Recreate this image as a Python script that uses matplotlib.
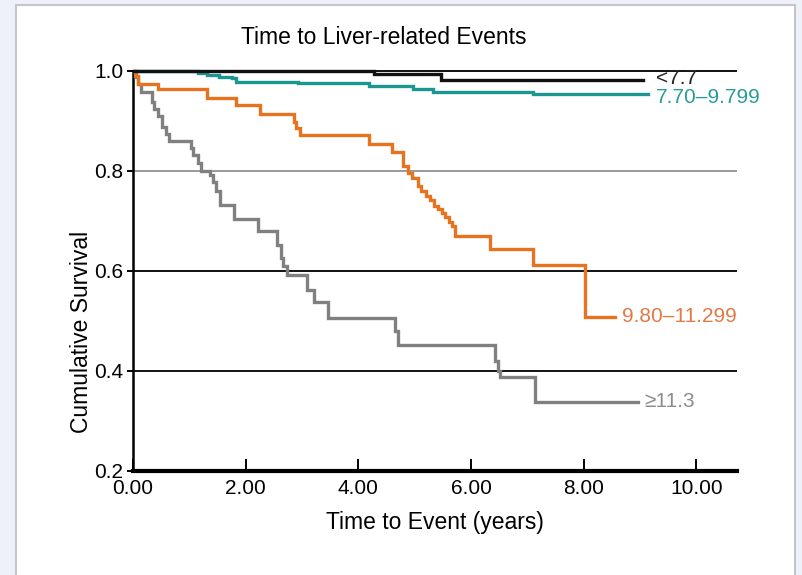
import numpy as np
import matplotlib
matplotlib.use("Agg")
import matplotlib.pyplot as plt
from matplotlib.patches import Rectangle

plt.rcParams['font.family'] = ['Liberation Sans', 'DejaVu Sans']

# Kaplan-Meier steps: (time of drop, survival after drop)
t_lt77 = [0.0, 4.27, 5.46]
s_lt77 = [1.0, 0.993, 0.982]
end_lt77 = 9.05

t_770 = [0.0, 1.16, 1.31, 1.52, 1.76, 1.82, 2.93, 4.18, 4.97, 5.32, 7.10]
s_770 = [1.0, 0.995, 0.991, 0.988, 0.985, 0.978, 0.975, 0.970, 0.964, 0.957, 0.953]
end_770 = 9.14

t_980 = [0.0, 0.04, 0.09, 0.45, 1.31, 1.82, 2.25, 2.85, 2.90, 2.96, 4.18, 4.60,
         4.79, 4.88, 4.95, 5.05, 5.12, 5.20, 5.27, 5.35, 5.41, 5.48, 5.53, 5.60,
         5.67, 5.72, 6.34, 7.10, 8.02]
s_980 = [1.0, 0.99, 0.974, 0.963, 0.946, 0.932, 0.914, 0.897, 0.885, 0.871, 0.854, 0.838,
         0.81, 0.795, 0.785, 0.77, 0.76, 0.75, 0.742, 0.73, 0.724, 0.715, 0.707, 0.698,
         0.69, 0.67, 0.644, 0.611, 0.508]
end_980 = 8.55

t_113 = [0.0, 0.05, 0.09, 0.15, 0.33, 0.37, 0.45, 0.51, 0.58, 0.64, 1.03, 1.07,
         1.15, 1.21, 1.36, 1.42, 1.48, 1.55, 1.79, 2.21, 2.56, 2.62, 2.67, 2.73,
         3.08, 3.22, 3.46, 4.65, 4.70, 6.43, 6.48, 6.52, 7.13]
s_113 = [1.0, 0.987, 0.974, 0.958, 0.937, 0.924, 0.909, 0.887, 0.873, 0.860, 0.845, 0.832,
         0.815, 0.80, 0.791, 0.777, 0.759, 0.731, 0.704, 0.679, 0.651, 0.626, 0.609, 0.592,
         0.562, 0.538, 0.505, 0.48, 0.452, 0.42, 0.40, 0.388, 0.338]
end_113 = 8.97

groups = ["<7.7", "7.70\u20139.799", "9.80\u201311.299", "\u226511.3"]
line_colors = ["#111111", "#1b9691", "#e8731f", "#808080"]
text_colors = ["#222222", "#2a9c98", "#e07a45", "#8c8c8c"]

yticks = [0.2, 0.4, 0.6, 0.8, 1.0]
xticks = [0, 2, 4, 6, 8, 10]
grid_levels = [1.0, 0.8, 0.6, 0.4]
grid_colors = ["#111111", "#9a9a9a", "#111111", "#111111"]

narrow = ['Liberation Sans Narrow', 'Liberation Sans', 'DejaVu Sans']

fig = plt.figure(figsize=(8.02, 5.75), dpi=100)
fig.patch.set_facecolor("#eef1f8")
fig.patches.append(Rectangle((16 / 802, -0.02), (795 - 16) / 802, 1.02 - 5 / 575,
                             transform=fig.transFigure, facecolor="white",
                             edgecolor="#c4c6cc", linewidth=1.5, zorder=-10))

ax = fig.add_axes([133 / 802, 1 - 470.7 / 575, (737 - 133) / 802, (470.7 - 66) / 575])
ax.set_facecolor("none")

for lev, c in zip(grid_levels, grid_colors):
    ax.axhline(lev, color=c, lw=1.4, zorder=1)

series = [(t_113, s_113, end_113), (t_980, s_980, end_980),
          (t_770, s_770, end_770), (t_lt77, s_lt77, end_lt77)]
idx = [3, 2, 1, 0]
for (t, s, e), i in zip(series, idx):
    ax.step(t + [e], s + [s[-1]], where="post", color=line_colors[i], lw=2.4,
            zorder=3 + (3 - i), solid_joinstyle="miter")

label_pos = [(9.28, 0.984), (9.28, 0.946), (8.68, 0.508), (9.08, 0.338)]
for (x, y), g, c in zip(label_pos, groups, text_colors):
    ax.text(x, y, g, color=c, fontsize=15, ha="left", va="center", clip_on=False)

ax.set_xlim(0, 10.72)
ax.set_ylim(0.2, 1.01)
ax.set_xticks(xticks)
ax.set_xticklabels([f"{v:.2f}" for v in xticks])
ax.set_yticks(yticks)
ax.set_yticklabels([f"{v:.1f}" for v in yticks], family=narrow)
ax.tick_params(axis="x", direction="in", length=9, width=1.4, pad=6, labelsize=15)
ax.tick_params(axis="y", direction="out", length=4, width=1.4, pad=3, labelsize=15)

for side in ["top", "right"]:
    ax.spines[side].set_visible(False)
ax.spines["left"].set_linewidth(1.8)
ax.spines["left"].set_bounds(0.2, 1.0)
ax.spines["bottom"].set_linewidth(3)

ax.set_xlabel("Time to Event (years)", fontsize=16.5, labelpad=9)
fig.text(81 / 802, 1 - 332 / 575, "Cumulative Survival", rotation=90,
         ha="center", va="center", fontsize=16.5, family=narrow)
fig.text(384 / 802, 1 - 37 / 575, "Time to Liver-related Events",
         ha="center", va="center", fontsize=16.5)

fig.savefig("out.png", dpi=100, facecolor=fig.get_facecolor())
